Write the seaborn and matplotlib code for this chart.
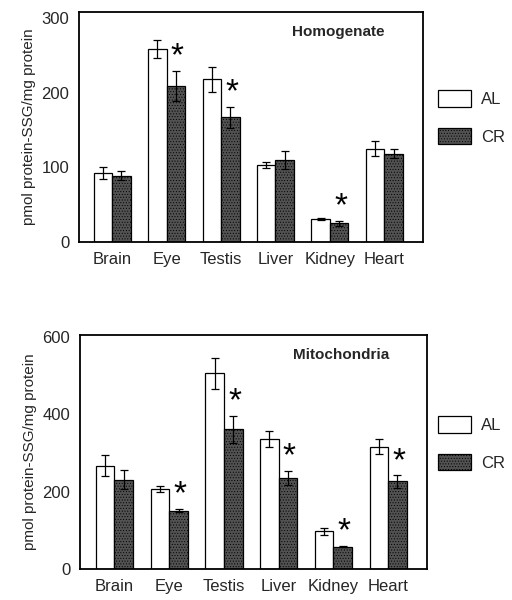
import numpy as np
import pandas as pd
import matplotlib
matplotlib.use("Agg")
import matplotlib.pyplot as plt
import seaborn as sns
from matplotlib.patches import Patch

sns.set_style("white")
plt.rcParams['font.family'] = ['Liberation Sans', 'DejaVu Sans']
plt.rcParams['hatch.linewidth'] = 0.4

tissues = ["Brain", "Eye", "Testis", "Liver", "Kidney", "Heart"]
groups = ["AL", "CR"]

homog_al = [93, 259, 218, 103, 31, 125]
homog_al_err = [8, 12, 17, 4, 1, 10]
homog_cr = [89, 209, 167, 110, 25, 118]
homog_cr_err = [6, 20, 14, 12, 3, 6]
homog_sig = [False, True, True, False, True, False]

mito_al = [267, 207, 505, 335, 97, 316]
mito_al_err = [28, 8, 40, 21, 10, 19]
mito_cr = [231, 151, 361, 236, 58, 226]
mito_cr_err = [24, 5, 35, 18, 2, 16]
mito_sig = [False, True, True, True, True, True]

colors = {"AL": "white", "CR": "#525252"}

fig = plt.figure(figsize=(5.12, 6.0), dpi=100)
ax1 = fig.add_axes([79/512, 1-242/600, 344/512, 230/600])
ax2 = fig.add_axes([80/512, 1-569/600, 347/512, 234/600])


def panel(ax, al, al_err, cr, cr_err, sig, ymax, yticks, title, xlim):
    df = pd.DataFrame({
        "Tissue": tissues * 2,
        "Diet": ["AL"] * len(tissues) + ["CR"] * len(tissues),
        "Value": list(al) + list(cr),
        "Err": list(al_err) + list(cr_err),
    })
    sns.barplot(data=df, x="Tissue", y="Value", hue="Diet", order=tissues,
                hue_order=groups, palette=colors, width=0.68, gap=0,
                errorbar=None, edgecolor="black", linewidth=0.9,
                legend=False, ax=ax)
    bars = [p for p in ax.patches if p.get_height() > 0]
    for p, e in zip(bars, df["Err"]):
        xc = p.get_x() + p.get_width() / 2
        ax.errorbar(xc, p.get_height(), yerr=e, color="black",
                    capsize=3.2, elinewidth=0.9, capthick=0.9, fmt="none")
    cr_bars = bars[len(tissues):]
    for p, e, s in zip(cr_bars, cr_err, sig):
        p.set_hatch("......")
        if s:
            xc = p.get_x() + p.get_width() / 2
            ax.annotate("*", (xc, p.get_height() + e), xytext=(1, 10),
                        textcoords="offset points", ha="center", va="center",
                        fontsize=24, color="black")
    ax.set_ylim(0, ymax)
    ax.set_xlim(*xlim)
    ax.set_yticks(yticks)
    ax.set_yticklabels([str(t) for t in yticks])
    ax.tick_params(axis="both", length=0, pad=7, labelsize=12)
    ax.set_xlabel("")
    ax.set_ylabel("pmol protein-SSG/mg protein", fontsize=11, labelpad=4)
    for sp in ax.spines.values():
        sp.set_visible(True)
        sp.set_linewidth(1.3)
        sp.set_color("black")
    ax.text(0.753, 0.913, title, transform=ax.transAxes, ha="center",
            va="center", fontsize=11, fontweight="bold")


panel(ax1, homog_al, homog_al_err, homog_cr, homog_cr_err, homog_sig,
      308, [0, 100, 200, 300], "Homogenate", (-0.61, 5.71))
panel(ax2, mito_al, mito_al_err, mito_cr, mito_cr_err, mito_sig,
      604, [0, 200, 400, 600], "Mitochondria", (-0.63, 5.71))

for ax, ytop in [(ax1, 1 - 75/600), (ax2, 1 - 401/600)]:
    handles = [Patch(facecolor="white", edgecolor="black", linewidth=0.9),
               Patch(facecolor="#525252", edgecolor="black", linewidth=0.9,
                     hatch="......")]
    fig.legend(handles, groups, loc="upper left",
               bbox_to_anchor=(423/512, ytop), frameon=False, fontsize=12,
               handlelength=2.0, handleheight=1.15, labelspacing=1.25,
               handletextpad=0.6)

fig.savefig("out.png", dpi=100)
